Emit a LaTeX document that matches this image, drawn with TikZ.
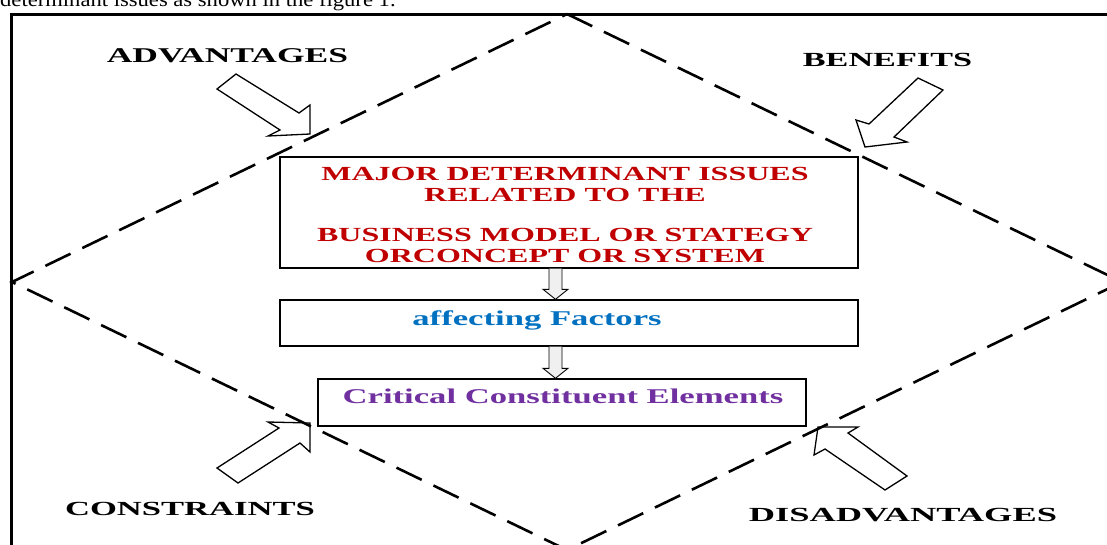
\documentclass[tikz,border=0pt]{standalone}
\usepackage{fontspec}
\setmainfont{Liberation Serif}
\usepackage{graphicx}
\usetikzlibrary{calc}
\definecolor{dred}{HTML}{C00000}
\definecolor{dblue}{HTML}{0070C0}
\definecolor{dpurple}{HTML}{7030A0}
\begin{document}
\begin{tikzpicture}[x=1pt,y=-1pt,
  lbl/.style={inner sep=0pt, anchor=base, font=\fontsize{20}{20}\selectfont\bfseries},
  boxnode/.style={draw, line width=1.4pt, inner sep=0pt},
  bigarrow/.style={draw, line width=1.3pt, line join=miter},
  smallarrow/.style={draw, line width=0.9pt, fill=gray!12},
  diam/.style={line width=2.6pt, dash pattern=on 28pt off 13pt},
  frameline/.style={line width=3pt}]
\useasboundingbox (0,0) rectangle (1107,544);
\clip (0,0) rectangle (1107,544);
% cut-off caption line at the top
\node[anchor=base west, inner sep=0pt] (cap) at (0,6) {\fontsize{20}{20}\selectfont\scalebox{1.13}[1]{determinant issues as shown in the figure 1.}};
% frame
\draw[frameline] (11,560) -- (11,14) -- (1120,14);
% big outline arrows
\draw[bigarrow] (236,74) -- (299,113) -- (310,105) -- (310,134) -- (268,136) -- (280,130) -- (217,89) -- cycle;
\draw[bigarrow] (918,78) -- (869,124) -- (856,120) -- (865,147) -- (907,142) -- (894,137) -- (943,90) -- cycle;
\draw[bigarrow] (217,468) -- (279,428) -- (268,422) -- (310,423) -- (310,452) -- (300,443) -- (238,483) -- cycle;
\draw[bigarrow] (818,427) -- (858,427) -- (848,433) -- (907,476) -- (885,490) -- (825,449) -- (814,455) -- cycle;
% dashed diamond
\draw[diam] (567,14) -- (1122,282) -- (567,550) -- (12,282) -- cycle;
% boxes
\node[boxnode, minimum width=578pt, minimum height=111pt] (b1) at (569,212.5) {};
\node[boxnode, minimum width=578pt, minimum height=46pt] (b2) at (569,323) {};
\node[boxnode, minimum width=488pt, minimum height=47pt] (b3) at (562,402.5) {};
% box texts
\node[lbl, text=dred] (t1a) at (565,180) {\scalebox{1.6}[1]{MAJOR DETERMINANT ISSUES}};
\node[lbl, text=dred] (t1b) at (565,201) {\scalebox{1.6}[1]{RELATED TO THE}};
\node[lbl, text=dred] (t1c) at (565,241) {\scalebox{1.6}[1]{BUSINESS MODEL OR STATEGY}};
\node[lbl, text=dred] (t1d) at (565,262) {\scalebox{1.6}[1]{ORCONCEPT OR SYSTEM}};
\node[lbl, text=dblue, font=\fontsize{21}{21}\selectfont\bfseries] (t2) at (537,325) {\scalebox{1.65}[1]{affecting Factors}};
\node[lbl, text=dpurple, font=\fontsize{21}{21}\selectfont\bfseries] (t3) at (563,403) {\scalebox{1.65}[1]{Critical Constituent Elements}};
% small block arrows between boxes
\coordinate (a1s) at ($(b1.south)+(-13.5,0)$);
\coordinate (a1e) at (a1s|-b2.north);
\draw[smallarrow] ($(a1s)+(-6.5,0)$) -- ($(a1e)+(-6.5,-10)$) -- ($(a1e)+(-12.5,-10)$) -- (a1e) -- ($(a1e)+(12.5,-10)$) -- ($(a1e)+(6.5,-10)$) -- ($(a1s)+(6.5,0)$);
\coordinate (a2s) at ($(b2.south)+(-13.5,0)$);
\coordinate (a2e) at (a2s|-b3.north);
\draw[smallarrow] ($(a2s)+(-6.5,0)$) -- ($(a2e)+(-6.5,-10)$) -- ($(a2e)+(-12.5,-10)$) -- (a2e) -- ($(a2e)+(12.5,-10)$) -- ($(a2e)+(6.5,-10)$) -- ($(a2s)+(6.5,0)$);
% corner labels
\node[lbl, font=\fontsize{21}{21}\selectfont\bfseries] (adv) at (227.5,62) {\scalebox{1.69}[1]{ADVANTAGES}};
\node[lbl] (ben) at (887.5,66) {\scalebox{1.71}[1]{BENEFITS}};
\node[lbl] (con) at (190,515) {\scalebox{1.73}[1]{CONSTRAINTS}};
\node[lbl] (dis) at (903,521) {\scalebox{1.82}[1]{DISADVANTAGES}};
\end{tikzpicture}
\end{document}
